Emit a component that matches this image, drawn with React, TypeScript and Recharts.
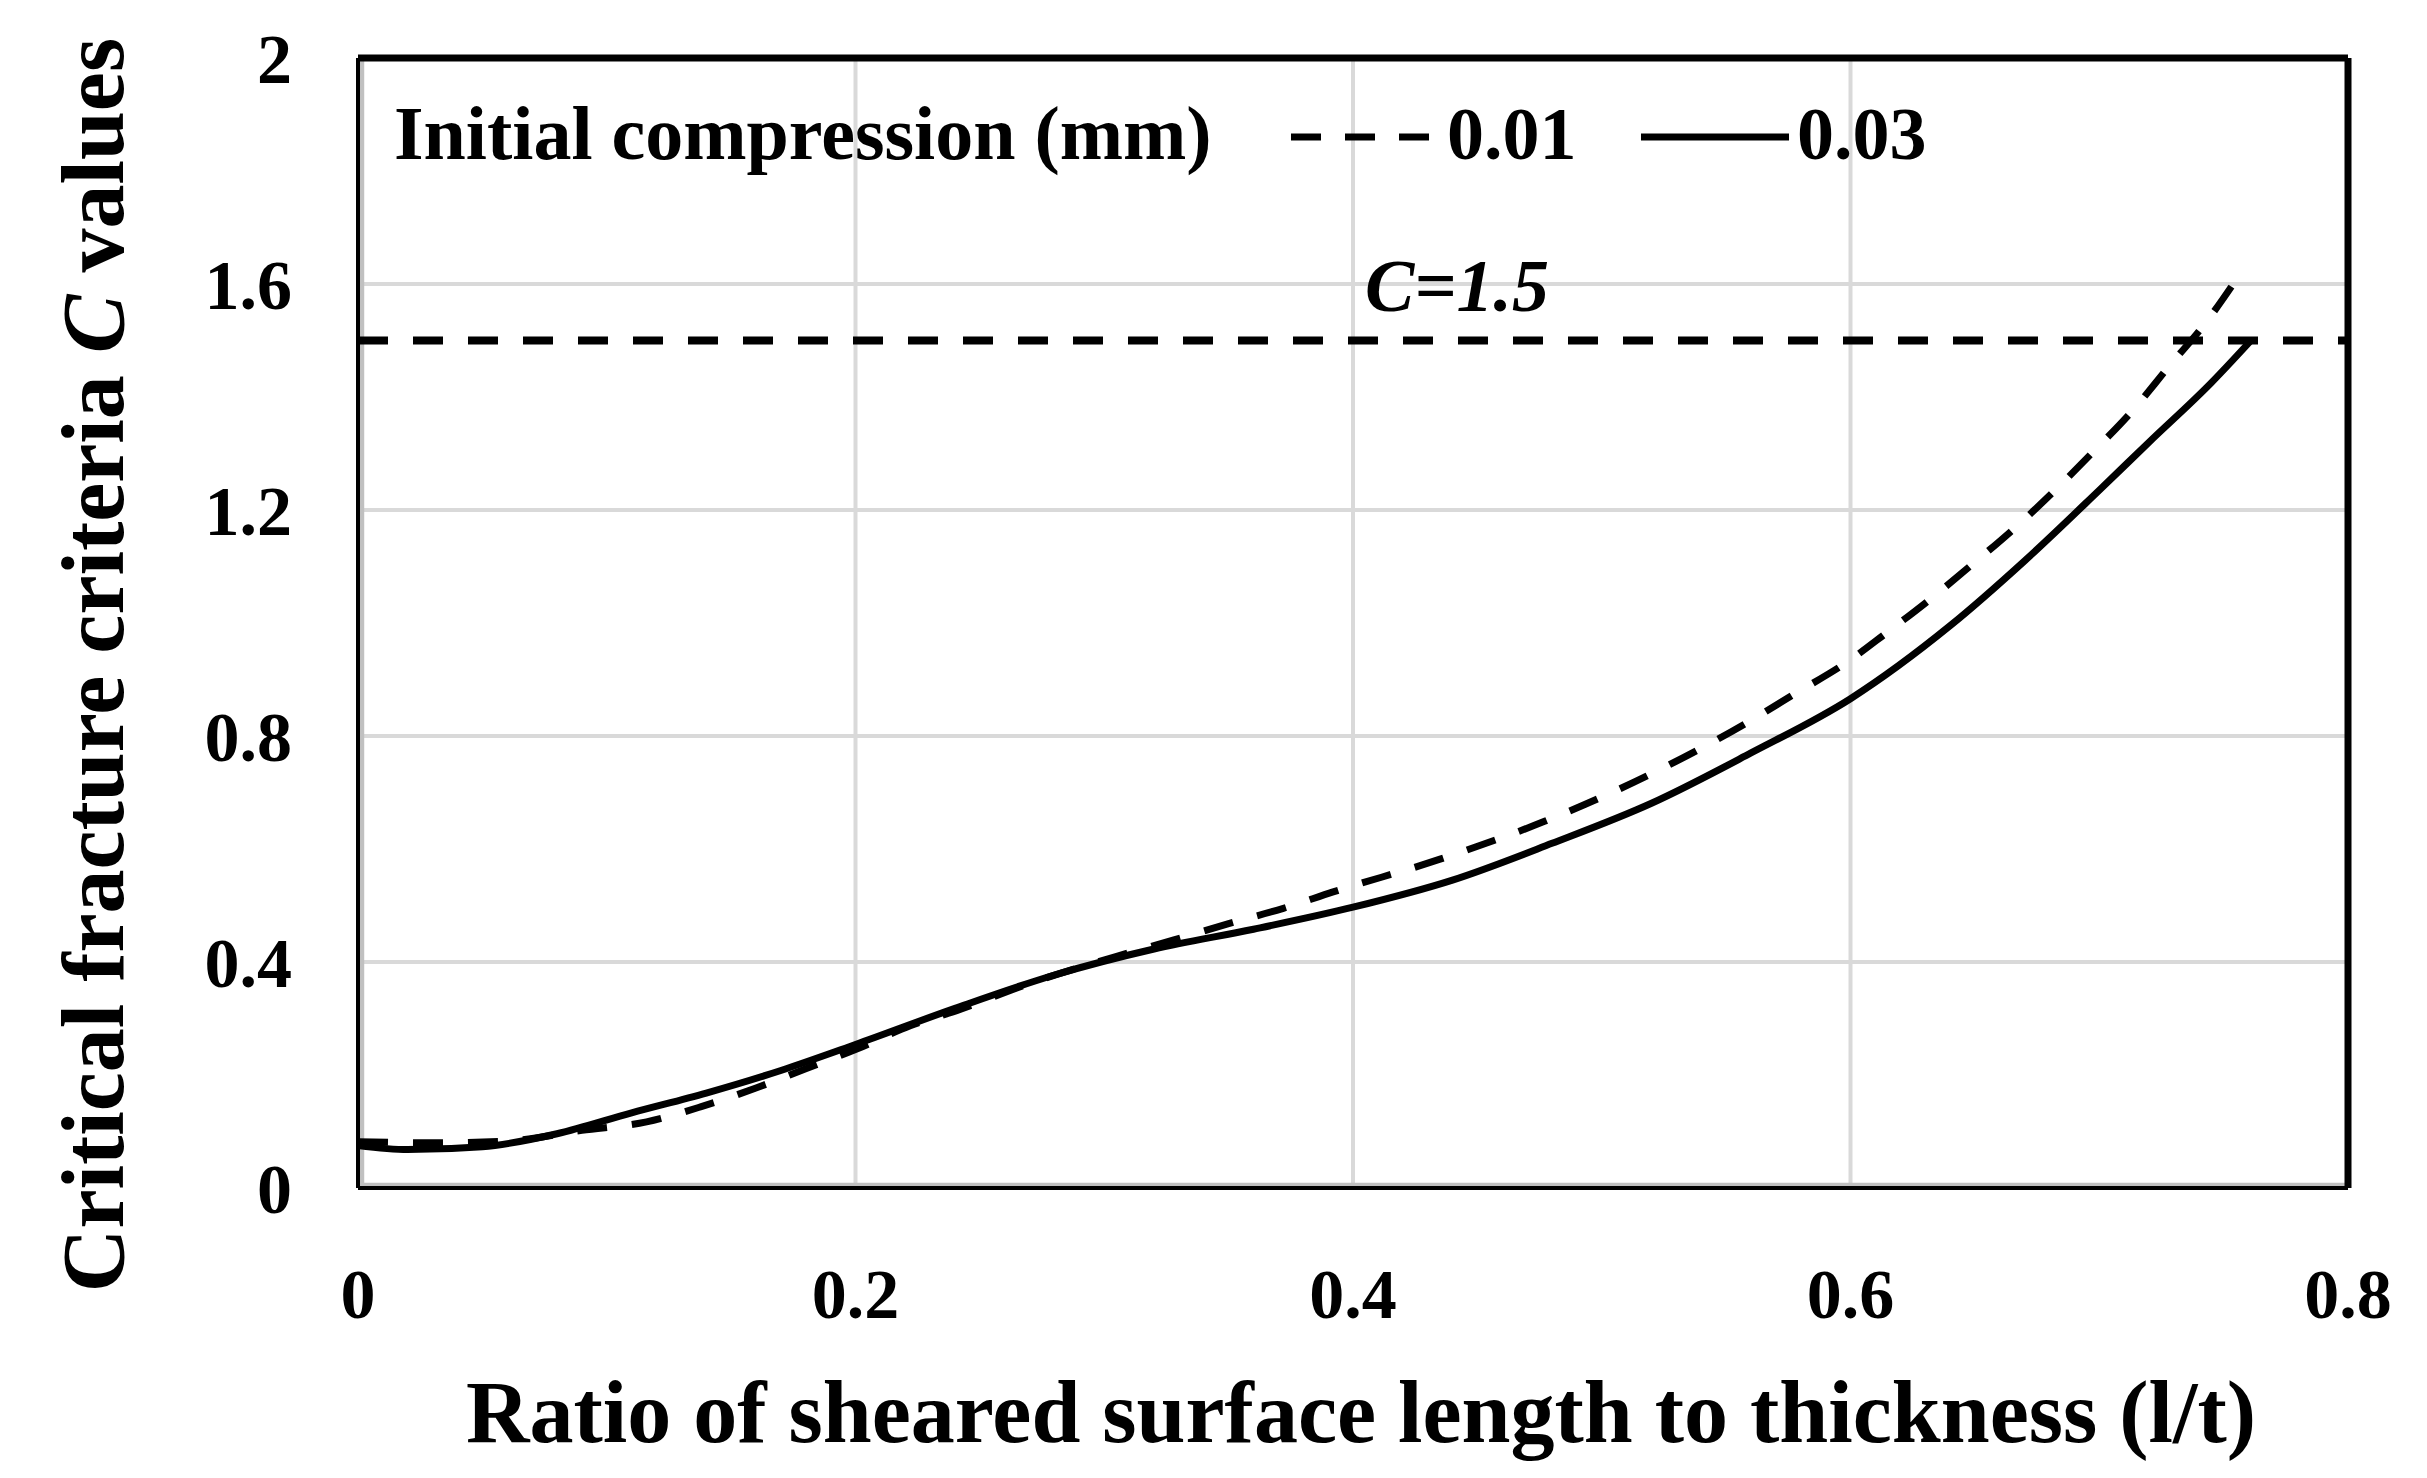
import {
  CartesianGrid,
  Label,
  Legend,
  Line,
  LineChart,
  ReferenceLine,
  XAxis,
  YAxis,
} from "recharts";

const xTicks = [0, 0.2, 0.4, 0.6, 0.8];
const yTicks = [0, 0.4, 0.8, 1.2, 1.6, 2];

// initial compression 0.01 mm (dashed)
const ratio001 = [
  0, 0.03, 0.06, 0.09, 0.116, 0.138, 0.16, 0.18, 0.2, 0.222, 0.242, 0.27, 0.305,
  0.328, 0.35, 0.372, 0.392, 0.435, 0.477, 0.518, 0.557, 0.577, 0.6, 0.614,
  0.632, 0.649, 0.666, 0.682, 0.698, 0.713, 0.728, 0.742, 0.758,
];
const cValues001 = [
  0.082, 0.08, 0.083, 0.102, 0.117, 0.144, 0.177, 0.211, 0.245, 0.287, 0.316,
  0.362, 0.41, 0.439, 0.468, 0.495, 0.524, 0.582, 0.649, 0.729, 0.82, 0.873,
  0.935, 0.981, 1.042, 1.104, 1.168, 1.234, 1.305, 1.374, 1.454, 1.527, 1.627,
];

// initial compression 0.03 mm (solid)
const ratio003 = [
  0, 0.02, 0.05, 0.08, 0.11, 0.14, 0.17, 0.2, 0.24, 0.28, 0.32, 0.36, 0.4, 0.44,
  0.48, 0.52, 0.56, 0.6, 0.64, 0.67, 0.7, 0.72, 0.745, 0.761,
];
const cValues003 = [
  0.075, 0.068, 0.073, 0.096, 0.133, 0.168, 0.208, 0.254, 0.318, 0.377, 0.423,
  0.458, 0.497, 0.545, 0.61, 0.681, 0.77, 0.866, 0.995, 1.11, 1.235, 1.32, 1.425,
  1.5,
];

const criticalC = 1.5;
const legendTitle = "Initial compression (mm)";
const seriesLabels = ["0.01", "0.03"];

const font = '"Liberation Serif", "Times New Roman", serif';

const data001 = ratio001.map((x, i) => ({ x, c: cValues001[i] }));
const data003 = ratio003.map((x, i) => ({ x, c: cValues003[i] }));

function renderLegend() {
  return (
    <svg width={2000} height={200} style={{ display: "block" }}>
      <text x={394} y={159} fontFamily={font} fontWeight="bold" fontSize={76} fill="#000">
        {legendTitle}
      </text>
      <line x1={1291} y1={137} x2={1439} y2={137} stroke="#000" strokeWidth={7} strokeDasharray="30 24" />
      <text x={1447} y={159} fontFamily={font} fontWeight="bold" fontSize={74} fill="#000">
        {seriesLabels[0]}
      </text>
      <line x1={1641} y1={137} x2={1789} y2={137} stroke="#000" strokeWidth={7} />
      <text x={1797} y={159} fontFamily={font} fontWeight="bold" fontSize={74} fill="#000">
        {seriesLabels[1]}
      </text>
    </svg>
  );
}

export default function App() {
  const tickStyle = { fill: "#000", fontSize: 70, fontFamily: font, fontWeight: "bold" };

  return (
    <div style={{ position: "absolute", left: 0, top: 0, width: 2427, height: 1478, background: "#fff" }}>
      <LineChart
        width={2427}
        height={1478}
        margin={{ top: 58, right: 79, bottom: 160, left: 238 }}
      >
        <CartesianGrid stroke="#d9d9d9" strokeWidth={4} />
        <XAxis
          dataKey="x"
          type="number"
          domain={[0, 0.8]}
          ticks={xTicks}
          height={130}
          tickSize={0}
          tickMargin={80}
          tickLine={false}
          tick={tickStyle}
          axisLine={{ stroke: "#000", strokeWidth: 4 }}
        >
          <Label
            content={() => (
              <text
                x={1361}
                y={1442}
                textAnchor="middle"
                fontFamily={font}
                fontWeight="bold"
                fontSize={88}
                fill="#000"
              >
                Ratio of sheared surface length to thickness (l/t)
              </text>
            )}
          />
        </XAxis>
        <YAxis
          type="number"
          domain={[0, 2]}
          ticks={yTicks}
          width={120}
          tickSize={0}
          tickMargin={66}
          tickLine={false}
          tick={tickStyle}
          axisLine={{ stroke: "#000", strokeWidth: 4 }}
        >
          <Label
            content={() => (
              <text
                x={123}
                y={665}
                transform="rotate(-90 123 665)"
                textAnchor="middle"
                fontFamily={font}
                fontWeight="bold"
                fontSize={88}
                fill="#000"
              >
                Critical fracture criteria <tspan fontStyle="italic">C</tspan> values
              </text>
            )}
          />
        </YAxis>
        {/* inner gray edge along left and bottom, thick black top and right frame */}
        <ReferenceLine x={0.0015} stroke="#c0c0c0" strokeWidth={5} />
        <ReferenceLine y={0.005} stroke="#c0c0c0" strokeWidth={5} />
        <ReferenceLine y={2} stroke="#000" strokeWidth={7} />
        <ReferenceLine x={0.8} stroke="#000" strokeWidth={7} />
        <ReferenceLine
          y={criticalC}
          stroke="#000"
          strokeWidth={8}
          strokeDasharray="30 25"
          label={(props: any) => {
            const vb = props.viewBox || { x: 358, y: 344, width: 1990 };
            return (
              <text
                x={vb.x + vb.width * 0.506}
                y={vb.y - 30}
                fontFamily={font}
                fontWeight="bold"
                fontStyle="italic"
                fontSize={74}
                fill="#000"
              >
                C=1.5
              </text>
            );
          }}
        />
        <Line
          data={data001}
          dataKey="c"
          name={seriesLabels[0]}
          type="monotone"
          stroke="#000"
          strokeWidth={7}
          strokeDasharray="30 25"
          dot={false}
          activeDot={false}
          isAnimationActive={false}
        />
        <Line
          data={data003}
          dataKey="c"
          name={seriesLabels[1]}
          type="monotone"
          stroke="#000"
          strokeWidth={7}
          dot={false}
          activeDot={false}
          isAnimationActive={false}
        />
        <Legend
          layout="horizontal"
          verticalAlign="middle"
          align="center"
          content={renderLegend}
          wrapperStyle={{ position: "absolute", left: 0, top: 0, width: 2000, height: 200 }}
        />
      </LineChart>
    </div>
  );
}
